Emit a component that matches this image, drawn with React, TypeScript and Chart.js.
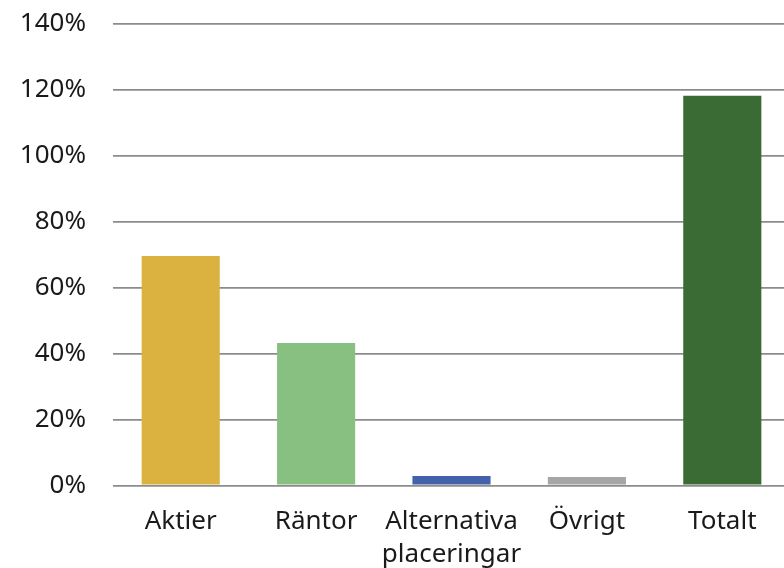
import React, { useEffect, useRef } from "react";
import { Chart, registerables } from "chart.js";

Chart.register(...registerables);

const categories: (string | string[])[] = ["Aktier", "Räntor", ["Alternativa", "placeringar"], "Övrigt", "Totalt"];
const values = [69.6, 43.2, 2.9, 2.6, 118.2];
const barColors = ["#DBB240", "#88C082", "#4462A9", "#A6A6A6", "#3B6B35"];
const yMin = 0;
const yMax = 140;
const yStep = 20;

export default function App() {
  const ref = useRef<HTMLCanvasElement | null>(null);
  useEffect(() => {
    if (!ref.current) return;
    const font = { family: "'Noto Sans', sans-serif", size: 26, lineHeight: 1.27 };
    const chart = new Chart(ref.current, {
      type: "bar",
      data: {
        labels: categories,
        datasets: [
          {
            data: values,
            backgroundColor: barColors,
            barPercentage: 0.577,
            categoryPercentage: 1,
          },
        ],
      },
      options: {
        responsive: false,
        animation: false,
        devicePixelRatio: 1,
        layout: { padding: { top: 24, left: 0, right: 0, bottom: 0 } },
        plugins: { legend: { display: false }, tooltip: { enabled: false } },
        scales: {
          x: {
            grid: { display: false, drawTicks: false },
            border: { display: false },
            ticks: { color: "#1a1a1a", font, padding: 20, maxRotation: 0, autoSkip: false },
            afterFit: (s: any) => {
              s.height = 82.5;
              s.paddingLeft = 0;
              s.paddingRight = 0;
            },
          },
          y: {
            min: yMin,
            max: yMax,
            grid: { color: "#8c8c8c", lineWidth: 1.8, drawTicks: false },
            border: { display: false },
            ticks: {
              stepSize: yStep,
              color: "#1a1a1a",
              font,
              padding: 27,
              callback: (v: any) => v + "%",
            },
            afterFit: (s: any) => {
              s.width = 113;
              s.paddingTop = 0;
              s.paddingBottom = 0;
            },
          },
        },
      },
    });
    return () => chart.destroy();
  }, []);
  return (
    <div style={{ position: "fixed", left: 0, top: 0, width: 784, height: 568, overflow: "hidden", background: "#fff" }}>
      <canvas ref={ref} width={790} height={568} style={{ display: "block" }} />
    </div>
  );
}
